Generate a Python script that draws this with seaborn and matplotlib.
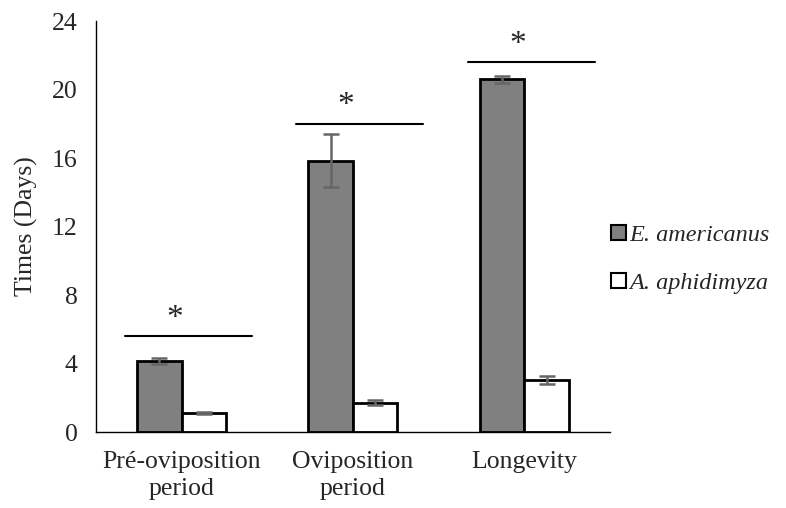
import matplotlib
matplotlib.use("Agg")
import matplotlib.pyplot as plt
import pandas as pd
import seaborn as sns

# DATA
categories = ["Pré-oviposition\nperiod", "Oviposition\nperiod", "Longevity"]
species = ["E. americanus", "A. aphidimyza"]
mean_e = [4.15, 15.85, 20.6]
err_e = [0.15, 1.55, 0.2]
mean_a = [1.1, 1.7, 3.05]
err_a = [0.07, 0.15, 0.22]
sig_height = [5.6, 18.0, 21.6]
y_ticks = [0, 4, 8, 12, 16, 20, 24]

df = pd.DataFrame({
    "category": categories * 2,
    "species": [species[0]] * 3 + [species[1]] * 3,
    "mean": mean_e + mean_a,
    "err": err_e + err_a,
})

sns.set_style("white")
plt.rcParams["font.family"] = ["Liberation Serif", "DejaVu Serif"]
fs = 18.5

fig = plt.figure(figsize=(7.86, 5.08), dpi=100)
ax = fig.add_axes([0.122, 0.1496, 0.654, 0.809])

sns.barplot(data=df, x="category", y="mean", hue="species", order=categories,
            hue_order=species, palette={species[0]: "#808080", species[1]: "white"},
            width=0.52, edgecolor="black", linewidth=2, errorbar=None, ax=ax,
            saturation=1)

# error bars at the bar centres
bars = [p for p in ax.patches if p.get_height() > 0][:6]
for p, e in zip(bars, err_e + err_a):
    xc = p.get_x() + p.get_width() / 2
    ax.errorbar(xc, p.get_height(), yerr=e, color="#666666", capsize=6,
                elinewidth=1.8, capthick=1.8, fmt="none", zorder=5)

# significance lines and stars
for i, h in enumerate(sig_height):
    ax.plot([i - 0.33, i + 0.41], [h, h], color="black", lw=1.5, clip_on=False)
    ax.text(i - 0.04, h + 0.15, "*", ha="center", va="bottom", fontsize=24)

ax.set_xlim(-0.5, 2.5)
ax.set_ylim(0, 24)
ax.set_yticks(y_ticks)
ax.set_xlabel("")
ax.set_ylabel("Times (Days)", fontsize=fs, labelpad=10)
ax.set_xticks([-0.5, 0.5, 1.5, 2.5], minor=True)
ax.tick_params(axis="x", which="major", length=0, labelsize=fs, pad=14)
ax.tick_params(axis="x", which="minor", length=7, width=1, direction="out", color="black")
ax.tick_params(axis="y", length=14, width=1, direction="inout", labelsize=fs,
               color="black", pad=6)
for lab in ax.get_xticklabels():
    lab.set_linespacing(1.25)
for s in ["top", "right"]:
    ax.spines[s].set_visible(False)
for s in ["left", "bottom"]:
    ax.spines[s].set_color("black")
    ax.spines[s].set_linewidth(1)

leg = ax.legend(loc="center left", bbox_to_anchor=(0.96, 0.42), frameon=False,
                prop={"style": "italic", "size": 17.5}, handlelength=0.6,
                handleheight=0.6, handletextpad=0.15, labelspacing=1.1)
for hnd in leg.legend_handles:
    hnd.set_linewidth(1.5)
    hnd.set_edgecolor("black")

fig.savefig("out.png", dpi=100)
